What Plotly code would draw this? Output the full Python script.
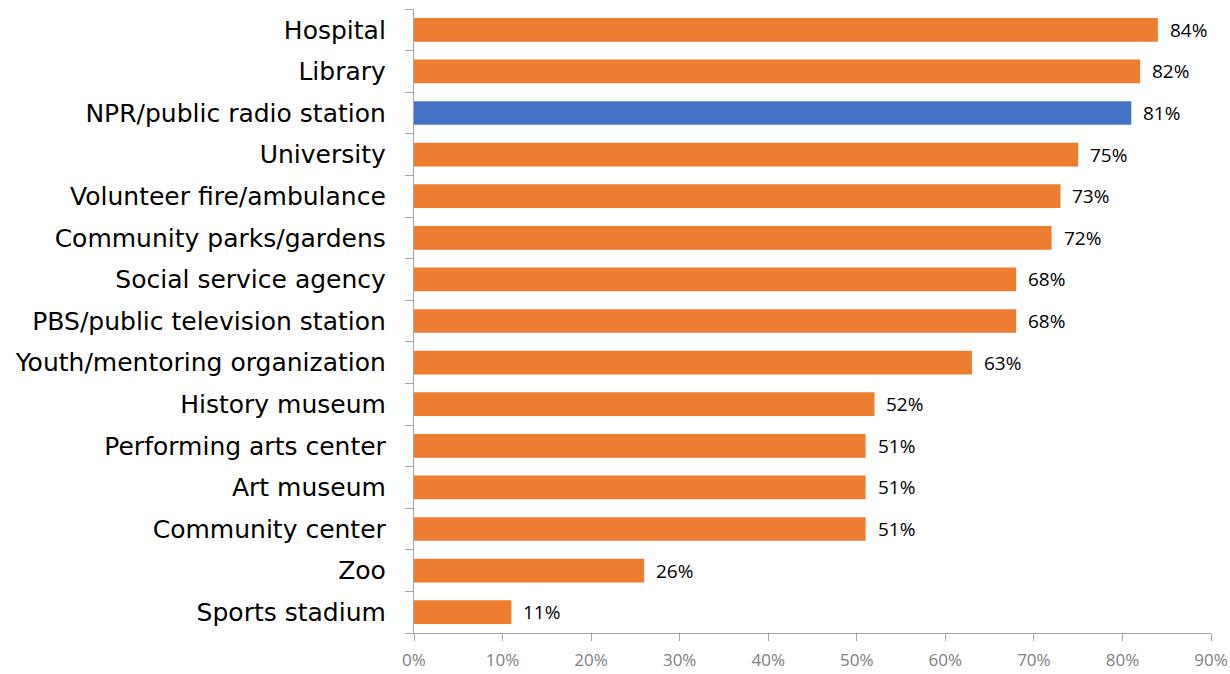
import plotly.graph_objects as go

categories = [
    "Hospital", "Library", "NPR/public radio station", "University",
    "Volunteer fire/ambulance", "Community parks/gardens", "Social service agency",
    "PBS/public television station", "Youth/mentoring organization", "History museum",
    "Performing arts center", "Art museum", "Community center", "Zoo", "Sports stadium",
]
values = [84, 82, 81, 75, 73, 72, 68, 68, 63, 52, 51, 51, 51, 26, 11]
highlight = "NPR/public radio station"
x_ticks = [0, 10, 20, 30, 40, 50, 60, 70, 80, 90]

ORANGE = "#ED7D31"
BLUE = "#4472C4"
AXIS = "#A6A6A6"

positions = list(range(len(categories)))
colors = [BLUE if c == highlight else ORANGE for c in categories]

fig = go.Figure(go.Bar(
    x=values, y=positions, orientation="h",
    marker=dict(color=colors, line=dict(width=0)),
    width=0.57, hoverinfo="skip",
))

for p, v in zip(positions, values):
    fig.add_annotation(
        x=v, y=p, text=f"{v}%", showarrow=False, xanchor="left", xshift=10,
        font=dict(family="Open Sans", size=19, color="#000000"),
    )

fig.update_layout(
    width=1230, height=674,
    margin=dict(l=414, r=19, t=9, b=41),
    paper_bgcolor="white", plot_bgcolor="white",
    showlegend=False,
    font=dict(family="Open Sans"),
)
fig.update_xaxes(
    range=[0, 90], tickvals=x_ticks, ticktext=[f"{t}%" for t in x_ticks],
    showgrid=False, zeroline=False, automargin=False,
    showline=True, linecolor=AXIS, linewidth=1.3,
    ticks="outside", ticklen=7, tickcolor=AXIS, tickwidth=1.3,
    tickfont=dict(family="Open Sans", size=17, color="#808080"),
    ticklabelstandoff=4,
)
fig.update_yaxes(
    range=[len(categories) - 0.5, -0.5],
    tickvals=positions, ticktext=categories, ticks="",
    tickfont=dict(family="DejaVu Sans", size=25, color="#000000"),
    showgrid=False, zeroline=False, automargin=False,
    showline=True, linecolor=AXIS, linewidth=1.3,
    ticklabelstandoff=22,
    minor=dict(
        tickvals=[p - 0.5 for p in positions] + [len(categories) - 0.5],
        ticks="outside", ticklen=8, tickcolor=AXIS, tickwidth=1.3, showgrid=False,
    ),
)

fig.write_html("out.html")
